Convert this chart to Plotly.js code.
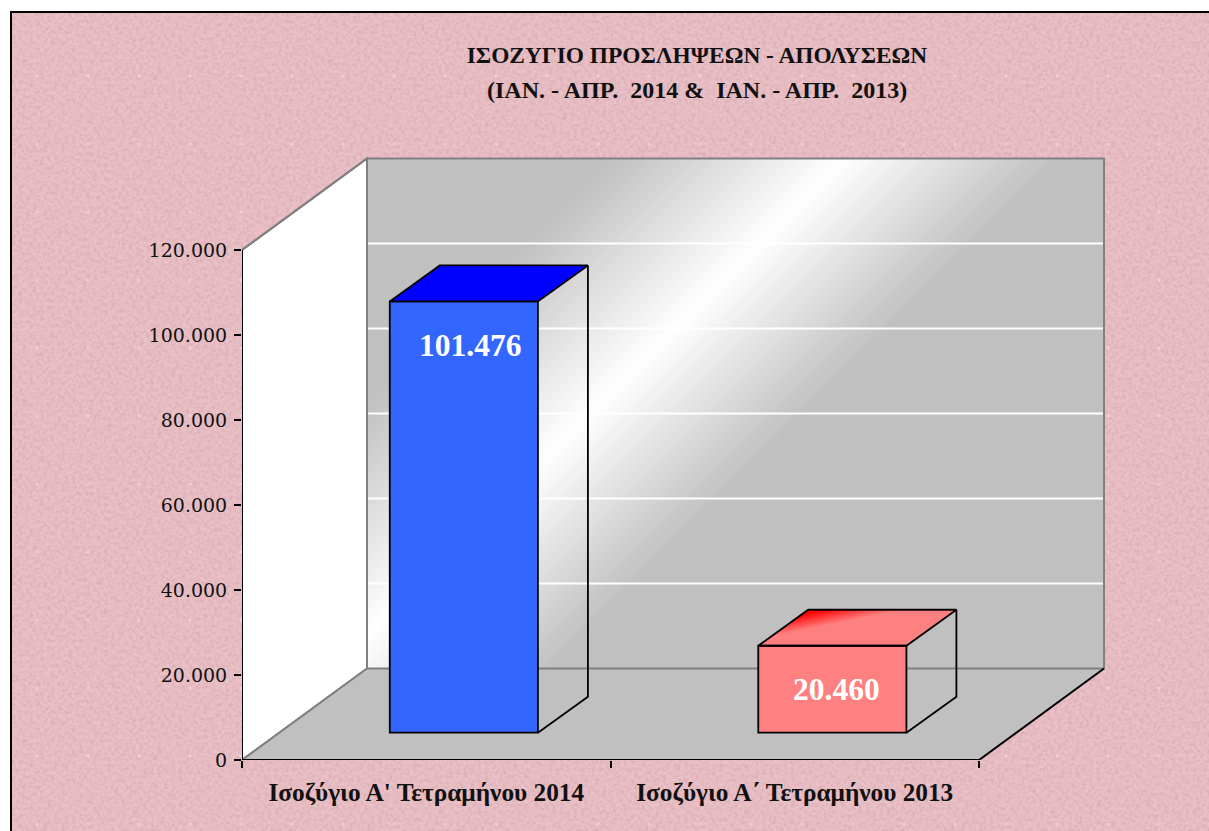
<!DOCTYPE html>
<html>
<head>
<meta charset="utf-8">
<script src="https://cdn.plot.ly/plotly-3.0.1.min.js"></script>
<style>
html,body{margin:0;padding:0;background:#fff;overflow:hidden;width:1209px;height:831px}
#bg{position:absolute;left:10px;top:11px;right:0;bottom:0;border-left:2px solid #000;border-top:2px solid #000}
#chart{position:absolute;left:0;top:0;width:1209px;height:831px}
</style>
</head>
<body>
<div id="bg"></div>
<div id="chart"></div>
<script>
// ---- data ----
const categories = ["Ισοζύγιο Α' Τετραμήνου 2014", "Ισοζύγιο Α΄ Τετραμήνου 2013"];
const values = [101476, 20460];
const yTicks = [0, 20000, 40000, 60000, 80000, 100000, 120000];
const titleLine1 = "ΙΣΟΖΥΓΙΟ ΠΡΟΣΛΗΨΕΩΝ - ΑΠΟΛΥΣΕΩΝ";
const titleLine2 = "(ΙΑΝ. - ΑΠΡ.  2014 &  ΙΑΝ. - ΑΠΡ.  2013)";
const frontColors = ["#3366ff", "#ff8080"];

// ---- geometry: scales of the plot area ----
const W = 1209, H = 831;
const L = 242, B = 760, PW = 873, PH = 612;    // plot area
const PX_PER_CAT = 368.5, PX_PER_UNIT = 510 / 120000;
const ux = px => px / PX_PER_CAT;
const uy = px => px / PX_PER_UNIT;
const wallDX = ux(125), wallDY = uy(91.5);
const barDX = ux(50), barDY = uy(36);
const barBase = uy(27.3), barShift = 0.102, barWidth = 0.402;
const yMaxWall = yTicks[yTicks.length - 1];
const xMaxFloor = categories.length;
const serif = "'Liberation Serif', serif";
const tickFont = "'DejaVu Serif', serif";

// ---- textures ----
const svgTex = `<svg xmlns="http://www.w3.org/2000/svg" width="306" height="340"><defs><pattern id="p" width="51" height="68" patternUnits="userSpaceOnUse"><circle cx="25" cy="63" r="1.5" fill="#f6e4e6" opacity="0.55"/></pattern><filter id="n" x="0" y="0" width="100%" height="100%"><feTurbulence type="fractalNoise" baseFrequency="0.28" numOctaves="4" seed="7" stitchTiles="stitch"/><feColorMatrix values="0 0 0 0 0.70 0 0 0 0 0.38 0 0 0 0 0.44 1.7 0 0 0 -0.68"/></filter></defs><rect width="306" height="340" fill="#e8c0c5"/><rect width="306" height="340" filter="url(#n)"/><rect width="306" height="340" fill="url(#p)"/></svg>`;
document.getElementById('bg').style.background = 'url("data:image/svg+xml,' + encodeURIComponent(svgTex) + '")';

function wallImage() {
  const c = document.createElement('canvas'); c.width = 738; c.height = 510;
  const g = c.getContext('2d');
  const gr = g.createLinearGradient(122, 122, 348, 348);
  gr.addColorStop(0, '#c0c0c0'); gr.addColorStop(0.518, '#ffffff'); gr.addColorStop(1, '#c0c0c0');
  g.fillStyle = gr; g.fillRect(0, 0, 738, 510);
  return c.toDataURL();
}
function redTopImage() {
  const c = document.createElement('canvas'); c.width = 199; c.height = 36;
  const g = c.getContext('2d');
  g.beginPath(); g.moveTo(0, 36); g.lineTo(50, 0); g.lineTo(199, 0); g.lineTo(149, 36); g.closePath(); g.clip();
  const gr = g.createLinearGradient(51, 3, 54.2, 18.5);
  gr.addColorStop(0, '#ff0000'); gr.addColorStop(1, '#ff8080');
  g.fillStyle = gr; g.fillRect(0, 0, 199, 36);
  return c.toDataURL();
}

// ---- geometry per bar, derived from values ----
const barX0 = values.map((v, i) => i + 0.5 + barShift - barWidth / 2);
const barX1 = barX0.map(x => x + barWidth);
const barTop = values.map(v => v + barBase);
const line = { color: '#000', width: 1.8 };
const traces = [];

traces.push({
  type: 'bar', x: values.map((v, i) => i + 0.5 + barShift), y: values, base: values.map(() => barBase),
  width: barWidth, marker: { color: frontColors, line: { color: '#000', width: 1.8 } },
  hoverinfo: 'skip', showlegend: false
});

values.forEach((v, i) => {
  const x0 = barX0[i], x1 = barX1[i], t = barTop[i];
  // top face
  traces.push({
    type: 'scatter', mode: 'lines', cliponaxis: false, hoverinfo: 'skip', showlegend: false,
    x: [x0, x0 + barDX, x1 + barDX, x1, x0], y: [t, t + barDY, t + barDY, t, t],
    fill: i === 0 ? 'toself' : 'none', fillcolor: '#0000ff', line: line
  });
  // see-through side face
  traces.push({
    type: 'scatter', mode: 'lines', cliponaxis: false, hoverinfo: 'skip', showlegend: false,
    x: [x1 + barDX, x1 + barDX, x1], y: [t + barDY, barBase + barDY, barBase], line: line
  });
});

// axis lines
traces.push({ type: 'scatter', mode: 'lines', cliponaxis: false, hoverinfo: 'skip', showlegend: false,
  x: [0, 0], y: [0, yMaxWall], line: { color: '#000', width: 2 } });
traces.push({ type: 'scatter', mode: 'lines', cliponaxis: false, hoverinfo: 'skip', showlegend: false,
  x: [0, xMaxFloor], y: [0, 0], line: { color: '#000', width: 2 } });

// ---- walls and floor ----
const pathOf = pts => 'M' + pts.map(p => p[0] + ',' + p[1]).join('L') + 'Z';
const grey = { color: '#808080', width: 2 };
const shapes = [
  { type: 'path', layer: 'below', xref: 'x', yref: 'y', fillcolor: '#ffffff', line: grey,
    path: pathOf([[0, 0], [0, yMaxWall], [wallDX, yMaxWall + wallDY], [wallDX, wallDY]]) },
  { type: 'path', layer: 'below', xref: 'x', yref: 'y', fillcolor: '#c0c0c0', line: { width: 0 },
    path: pathOf([[0, 0], [wallDX, wallDY], [xMaxFloor + wallDX, wallDY], [xMaxFloor, 0]]) }
];
yTicks.slice(1, -1).forEach(t => shapes.push({
  type: 'line', layer: 'between', xref: 'x', yref: 'y', line: { color: '#ffffff', width: 2 },
  x0: wallDX, x1: xMaxFloor + wallDX, y0: t + wallDY, y1: t + wallDY
}));
shapes.push(
  { type: 'rect', layer: 'between', xref: 'x', yref: 'y', line: grey, fillcolor: 'rgba(0,0,0,0)',
    x0: wallDX, x1: xMaxFloor + wallDX, y0: wallDY, y1: yMaxWall + wallDY },
  { type: 'line', layer: 'between', xref: 'x', yref: 'y', line: grey, x0: 0, y0: 0, x1: wallDX, y1: wallDY },
  { type: 'line', layer: 'between', xref: 'x', yref: 'y', line: grey, x0: 0, y0: yMaxWall, x1: wallDX, y1: yMaxWall + wallDY },
  { type: 'line', layer: 'between', xref: 'x', yref: 'y', line: { color: '#000', width: 2 },
    x0: xMaxFloor, y0: 0, x1: xMaxFloor + wallDX, y1: wallDY }
);

const images = [
  { source: wallImage(), xref: 'x', yref: 'y', x: wallDX, y: yMaxWall + wallDY, sizex: xMaxFloor, sizey: yMaxWall,
    xanchor: 'left', yanchor: 'top', sizing: 'stretch', layer: 'below' },
  { source: redTopImage(), xref: 'x', yref: 'y', x: barX0[1], y: barTop[1] + barDY, sizex: barWidth + barDX, sizey: barDY,
    xanchor: 'left', yanchor: 'top', sizing: 'stretch', layer: 'below' }
];

const dotted = v => String(v).replace(/\B(?=(\d{3})+$)/g, '.');
const labelDX = [ux(6.5), ux(4.5)];
const annotations = values.map((v, i) => ({
  xref: 'x', yref: 'y', x: i + 0.5 + barShift + labelDX[i], y: barTop[i] - uy(44),
  text: '<b>' + dotted(v) + '</b>', showarrow: false, xanchor: 'center', yanchor: 'middle',
  font: { family: serif, size: 31.5, color: '#ffffff' }
}));
annotations.push({
  xref: 'paper', yref: 'paper', x: (697 - L) / PW, y: (B - 90) / PH,
  text: '<b>' + titleLine2.replace(/  /g, '\u00a0\u00a0') + '</b>', showarrow: false, xanchor: 'center', yanchor: 'middle',
  font: { family: serif, size: 24, color: '#111' }
});

const layout = {
  width: W, height: H,
  margin: { l: L, r: W - L - PW, t: B - PH, b: H - B, pad: 0 },
  paper_bgcolor: 'rgba(0,0,0,0)', plot_bgcolor: 'rgba(0,0,0,0)',
  separators: ',.',
  showlegend: false,
  title: { text: '<b>' + titleLine1 + '</b>', x: 697 / W, xanchor: 'center', y: 1 - 55 / H, yanchor: 'middle',
    font: { family: serif, size: 23.4, color: '#111' } },
  xaxis: {
    range: [0, PW / PX_PER_CAT], showgrid: false, zeroline: false, showline: false,
    tickmode: 'array', tickvals: categories.map((c, i) => i + 0.5), ticktext: categories.map(c => '<b>' + c + '</b>'),
    ticks: '', ticklabelstandoff: 15, tickangle: 0,
    tickfont: { family: serif, size: 25.3, color: '#111' },
    minor: { tickmode: 'array', tickvals: categories.map((c, i) => i).concat([categories.length]), ticks: 'outside', ticklen: 7, tickwidth: 2, tickcolor: '#000', showgrid: false }
  },
  yaxis: {
    range: [0, PH / PX_PER_UNIT], showgrid: false, zeroline: false, showline: false,
    tickmode: 'array', tickvals: yTicks, tickformat: ',d',
    ticks: 'outside', ticklen: 7, tickwidth: 2, tickcolor: '#000', ticklabelstandoff: 3,
    tickfont: { family: tickFont, size: 19, color: '#111' }
  },
  shapes: shapes, images: images, annotations: annotations, barmode: 'overlay'
};

Plotly.newPlot('chart', traces, layout, { displayModeBar: false, staticPlot: true });
</script>
</body>
</html>
